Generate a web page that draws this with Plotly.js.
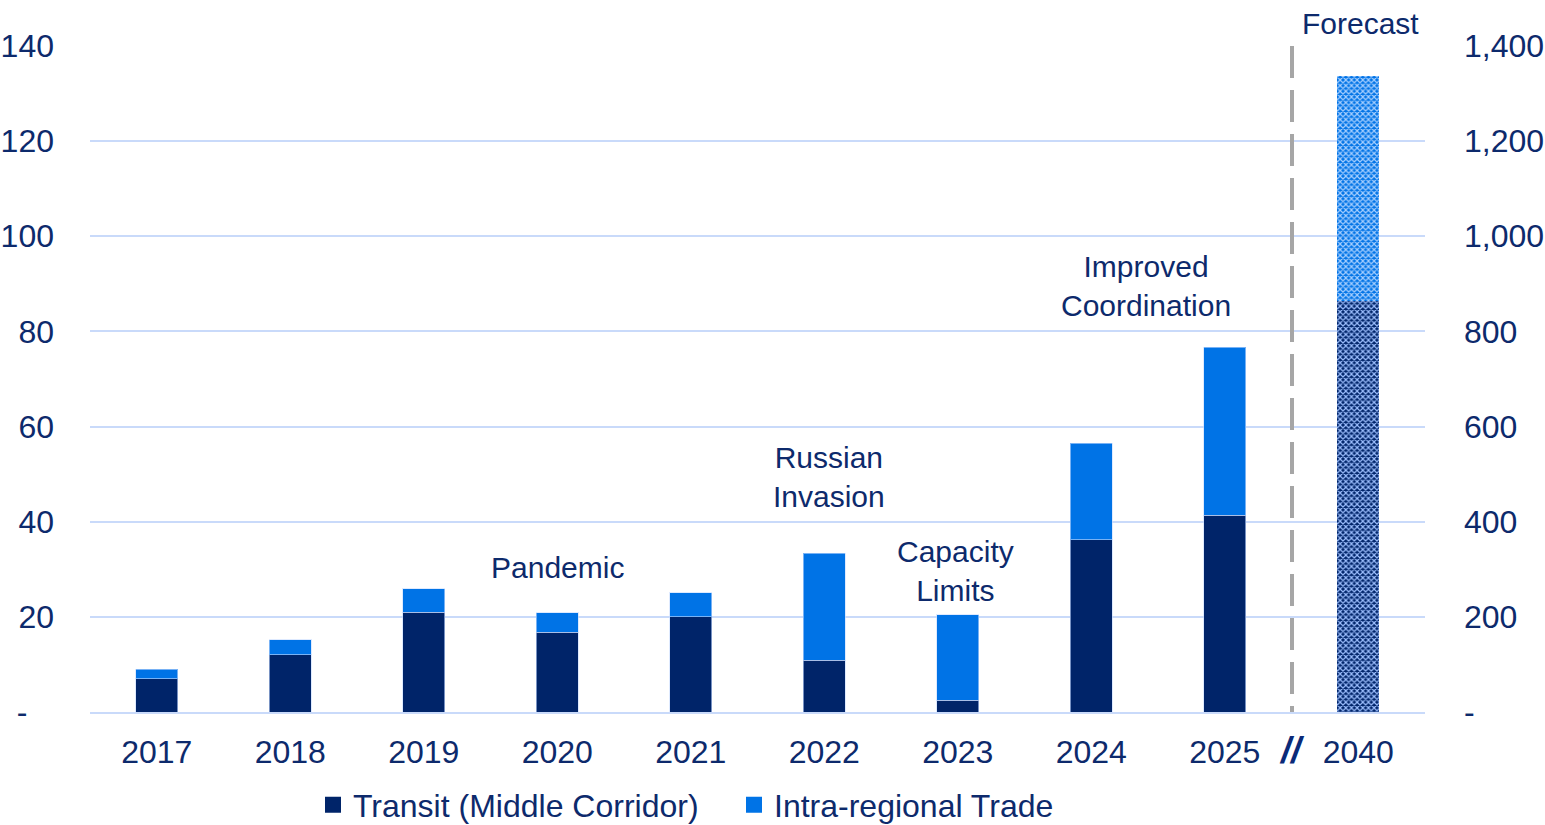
<!DOCTYPE html>
<html>
<head>
<meta charset="utf-8">
<script src="https://cdn.plot.ly/plotly-3.0.1.min.js"></script>
<style>html,body{margin:0;padding:0;background:#fff;}#chart{width:1545px;height:825px;}</style>
</head>
<body>
<div id="chart"></div>
<script>
const years = ["2017","2018","2019","2020","2021","2022","2023","2024","2025"];
const transit = [7, 12, 21, 16.8, 20, 10.9, 2.5, 36.2, 41.4];
const intra = [2, 3.2, 4.9, 4.1, 5.1, 22.5, 17.9, 20.3, 35.3];
const forecastYear = ["2040"];
const transitForecast = [864];
const intraForecast = [473];
const leftTicks = [0, 20, 40, 60, 80, 100, 120, 140];
const leftTickText = ["-\u00a0\u00a0\u00a0", "20", "40", "60", "80", "100", "120", "140"];
const rightTicks = [0, 200, 400, 600, 800, 1000, 1200, 1400];
const rightTickText = ["-", "200", "400", "600", "800", "1,000", "1,200", "1,400"];

const NAVY = "#002469";
const BLUE = "#0073e6";
const TXT = "#0d2a6c";
const GRID = "#c9dafa";
const FONT = "Liberation Sans, Arial, sans-serif";
const BW = 0.315;
const outline = {color: "rgba(200,220,255,0.6)", width: 1};

const traces = [
  {type: "bar", name: "Transit (Middle Corridor)", showlegend: false, x: years, y: transit, marker: {color: NAVY, line: outline}, width: BW, xaxis: "x", yaxis: "y", hoverinfo: "none"},
  {type: "bar", name: "Intra-regional Trade", showlegend: false, x: years, y: intra, marker: {color: BLUE, line: outline}, width: BW, xaxis: "x", yaxis: "y", hoverinfo: "none"},
  {type: "bar", name: "Transit forecast", showlegend: false, x: forecastYear, y: transitForecast, width: BW, xaxis: "x", yaxis: "y2",
   marker: {color: NAVY, pattern: {shape: "x", bgcolor: NAVY, fgcolor: "#9ec0ff", size: 4, solidity: 0.5}}, hoverinfo: "none"},
  {type: "bar", name: "Intra forecast", showlegend: false, x: forecastYear, y: intraForecast, width: BW, xaxis: "x", yaxis: "y2",
   marker: {color: BLUE, pattern: {shape: "x", bgcolor: BLUE, fgcolor: "#a8d0ff", size: 4, solidity: 0.5}}, hoverinfo: "none"},
  {type: "scatter", mode: "markers", name: "Transit (Middle Corridor)", x: [null], y: [null], marker: {symbol: "square", size: 16, color: NAVY}, hoverinfo: "none"},
  {type: "scatter", mode: "markers", name: "Intra-regional Trade", x: [null], y: [null], marker: {symbol: "square", size: 16, color: BLUE}, hoverinfo: "none"}
];

function px(x){ return (x - 90) / 1335; }
function py(y){ return (712 - y) / 666; }

const annFont = {family: FONT, size: 30, color: TXT};
function ann(text, x, y, font){
  return {text: text, xref: "paper", yref: "paper", x: px(x), y: py(y), xanchor: "center", yanchor: "middle", showarrow: false, font: font || annFont};
}
const layout = {
  width: 1545, height: 825,
  margin: {l: 90, r: 120, t: 46, b: 113, pad: 0, autoexpand: false},
  paper_bgcolor: "#fff", plot_bgcolor: "#fff",
  barmode: "stack",
  showlegend: true,
  legend: {orientation: "h", x: px(313), xanchor: "left", xref: "paper", y: py(805), yanchor: "middle", font: {family: FONT, size: 32, color: TXT},
    itemwidth: 30, entrywidth: 376, entrywidthmode: "pixels", traceorder: "normal", tracegroupgap: 0},
  font: {family: FONT, size: 32, color: TXT},
  xaxis: {type: "category", categoryorder: "array", categoryarray: years.concat(forecastYear), range: [-0.5, 9.5],
    showgrid: false, showline: true, linecolor: GRID, linewidth: 2, ticks: "", ticklabelstandoff: 11,
    tickfont: {family: FONT, size: 32, color: TXT}, fixedrange: true},
  yaxis: {range: [0, 140], tickvals: leftTicks, ticktext: leftTickText, showgrid: true, gridcolor: GRID, gridwidth: 2,
    zeroline: false, showline: false, ticks: "", ticklabelstandoff: 35, tickfont: {family: FONT, size: 32, color: TXT}},
  yaxis2: {range: [0, 1400], overlaying: "y", side: "right", tickvals: rightTicks, ticktext: rightTickText, showgrid: false,
    zeroline: false, showline: false, ticks: "", ticklabelstandoff: 38, tickfont: {family: FONT, size: 32, color: TXT}},
  shapes: [
    {type: "line", xref: "paper", yref: "paper", x0: px(1292), x1: px(1292), y0: 1, y1: 0,
     line: {color: "#a6a6a6", width: 4, dash: "32px,12px"}}
  ],
  annotations: [
    ann("Pandemic", 557, 567),
    ann("Russian<br>Invasion", 829, 477),
    ann("Capacity<br>Limits", 955, 571),
    ann("Improved<br>Coordination", 1146, 286),
    ann("Forecast", 1360, 24),
    ann("<b><i>//</i></b>", 1292, 750, {family: FONT, size: 36, color: "#0a2a78"})
  ]
};

Plotly.newPlot("chart", traces, layout, {displayModeBar: false, staticPlot: true});
</script>
</body>
</html>
